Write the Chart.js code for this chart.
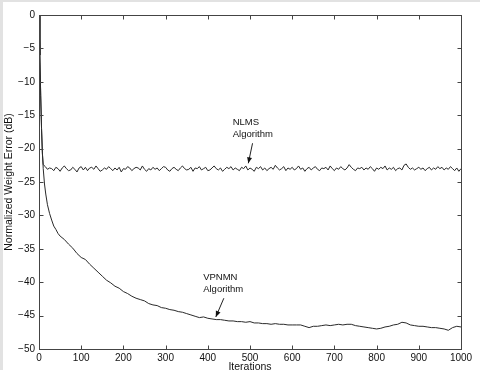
<!DOCTYPE html>
<html>
<head>
<meta charset="utf-8">
<script src="https://cdn.jsdelivr.net/npm/chart.js@4/dist/chart.umd.min.js"></script>
<style>
  html, body { margin: 0; padding: 0; background: #fff; }
  #wrap { width: 480px; height: 370px; position: relative; }
</style>
</head>
<body>
<div id="wrap"><canvas id="c" width="480" height="370"></canvas></div>
<script>
// ---- Data ----
const xTicks = [0, 100, 200, 300, 400, 500, 600, 700, 800, 900, 1000];
const yTicks = [0, -5, -10, -15, -20, -25, -30, -35, -40, -45, -50];

// VPNMN algorithm curve
const vpnmnIter = [0, 2, 4, 6, 8, 10, 13, 16, 20, 25, 30, 35, 40, 45, 50, 60, 70, 80, 90, 100,
  110, 120, 130, 140, 150, 160, 170, 180, 190, 200, 210, 220, 230, 240, 250, 260, 270, 280, 290, 300,
  310, 320, 330, 340, 350, 360, 370, 380, 390, 400, 410, 420, 430, 440, 450, 460, 470, 480, 490, 500,
  510, 520, 530, 540, 550, 560, 570, 580, 590, 600, 610, 620, 630, 640, 650, 660, 670, 680, 690, 700,
  710, 720, 730, 740, 750, 760, 770, 780, 790, 800, 810, 820, 830, 840, 850, 860, 870, 880, 890, 900,
  910, 920, 930, 940, 950, 960, 970, 980, 990, 1000];
const vpnmnErr = [0, -6, -12, -17, -20.5, -23, -25.3, -26.8, -28.4, -29.7, -30.7, -31.6, -32.1, -32.7, -33.1, -33.6, -34.3, -34.9, -35.7, -36.3,
  -36.6, -37.3, -37.9, -38.5, -39.1, -39.7, -40.1, -40.6, -40.9, -41.4, -41.7, -42.1, -42.4, -42.6, -42.8, -43.2, -43.4, -43.5, -43.8, -43.9,
  -44.1, -44.2, -44.4, -44.5, -44.7, -44.9, -45.1, -45.3, -45.2, -45.4, -45.5, -45.6, -45.6, -45.7, -45.8, -45.8, -45.9, -45.9, -46.0, -45.9,
  -46.1, -46.1, -46.2, -46.2, -46.3, -46.2, -46.3, -46.3, -46.4, -46.4, -46.4, -46.4, -46.6, -46.8, -46.6, -46.6, -46.5, -46.4, -46.5, -46.4,
  -46.3, -46.4, -46.3, -46.3, -46.5, -46.6, -46.7, -46.8, -46.9, -47.0, -46.9, -46.7, -46.6, -46.4, -46.3, -46.0, -46.1, -46.4, -46.5, -46.6,
  -46.6, -46.7, -46.8, -46.8, -46.9, -47.0, -47.2, -46.8, -46.6, -46.7];

// NLMS algorithm curve: initial drop, then steady state every 5 iterations from 15 to 1000
const nlmsDropIter = [0, 2, 4, 6, 8, 10];
const nlmsDropErr = [0, -6, -12, -17, -20.8, -22.4];
const nlmsStart = 15, nlmsStep = 5;
const nlmsErr = [
  -22.7,-23.1,-22.9,-23.0,-23.3,-22.8,-23.0,-23.4,-22.9,-22.6,
  -23.0,-23.3,-23.2,-22.8,-23.1,-23.5,-22.9,-22.7,-23.2,-22.8,
  -23.3,-22.9,-22.8,-23.1,-22.6,-23.0,-23.4,-23.2,-22.9,-23.1,
  -22.7,-23.0,-23.3,-22.9,-23.2,-22.8,-23.5,-23.0,-23.1,-22.7,
  -22.9,-23.3,-23.0,-22.8,-22.9,-23.2,-22.6,-23.1,-23.4,-23.0,
  -23.2,-22.8,-23.1,-22.9,-23.3,-23.0,-22.7,-22.8,-23.2,-23.4,
  -23.0,-22.8,-23.1,-23.3,-22.9,-22.6,-23.0,-23.2,-23.1,-22.8,
  -23.4,-22.9,-23.0,-22.7,-23.2,-23.0,-22.8,-23.3,-23.2,-22.9,
  -22.6,-23.0,-23.2,-22.9,-23.4,-23.1,-22.8,-23.0,-22.7,-23.2,
  -22.9,-23.1,-23.3,-22.8,-23.0,-22.6,-23.2,-22.9,-23.1,-23.4,
  -22.8,-23.0,-22.7,-23.2,-22.9,-23.3,-23.0,-22.8,-23.1,-22.5,
  -22.9,-23.2,-23.0,-22.7,-23.3,-22.9,-23.1,-22.8,-23.2,-23.0,
  -22.6,-23.1,-22.9,-23.4,-23.0,-22.8,-23.2,-22.9,-22.7,-23.1,
  -23.3,-22.9,-23.0,-22.8,-23.2,-22.6,-23.0,-23.3,-22.9,-23.1,
  -22.7,-23.0,-23.2,-22.9,-22.4,-22.8,-23.1,-23.3,-22.9,-23.0,
  -22.8,-23.2,-22.9,-23.1,-22.7,-23.0,-23.4,-22.9,-23.1,-22.8,
  -23.0,-22.6,-23.2,-22.9,-23.1,-22.8,-23.3,-23.0,-22.9,-23.2,
  -22.5,-22.3,-22.8,-23.1,-22.9,-23.2,-23.0,-22.8,-23.1,-22.9,
  -23.3,-23.0,-22.8,-23.2,-22.9,-23.1,-22.7,-23.0,-22.8,-23.2,
  -22.9,-23.1,-22.7,-23.0,-23.3,-22.9,-23.4,-23.0
];

// ---- Build library data ----
const vpnmnData = vpnmnIter.map((x, i) => ({ x: x, y: vpnmnErr[i] }));
const nlmsData = nlmsDropIter.map((x, i) => ({ x: x, y: nlmsDropErr[i] }))
  .concat(nlmsErr.map((y, i) => ({ x: nlmsStart + i * nlmsStep, y: y })));

const FONT = "'Liberation Sans', Arial, Helvetica, sans-serif";
const AXIS_COLOR = '#444';
const LINE_COLOR = '#2a2a2a';

const annotations = [
  { lines: ['NLMS', 'Algorithm'], tx: 459, ty: -15.4, ax0: 506, ay0: -19.2, ax1: 496, ay1: -22.2 },
  { lines: ['VPNMN', 'Algorithm'], tx: 389, ty: -38.6, ax0: 438, ay0: -42.4, ax1: 419, ay1: -45.2 }
];

const framePlugin = {
  id: 'frame',
  beforeDraw(chart) {
    const ctx = chart.ctx;
    ctx.save();
    ctx.fillStyle = '#ffffff';
    ctx.fillRect(0, 0, chart.width, chart.height);
    ctx.fillStyle = '#e2e2e2';
    ctx.fillRect(0, 0, 3, chart.height);
    ctx.fillRect(0, 0, chart.width, 2);
    ctx.restore();
  },
  afterDraw(chart) {
    const ctx = chart.ctx;
    const a = chart.chartArea;
    const xs = chart.scales.x, ys = chart.scales.y;
    ctx.save();
    ctx.strokeStyle = AXIS_COLOR;
    ctx.lineWidth = 1;
    const L = Math.round(a.left) + 0.5, R = Math.round(a.right) + 0.5;
    const T = Math.round(a.top) + 0.5, B = Math.round(a.bottom) + 0.5;
    ctx.strokeRect(L, T, R - L, B - T);
    const tl = 4;
    ctx.beginPath();
    xTicks.forEach(v => {
      const px = Math.round(xs.getPixelForValue(v)) + 0.5;
      ctx.moveTo(px, B); ctx.lineTo(px, B - tl);
      ctx.moveTo(px, T); ctx.lineTo(px, T + tl);
    });
    yTicks.forEach(v => {
      const py = Math.round(ys.getPixelForValue(v)) + 0.5;
      ctx.moveTo(L, py); ctx.lineTo(L + tl, py);
      ctx.moveTo(R, py); ctx.lineTo(R - tl, py);
    });
    ctx.stroke();

    // annotations
    ctx.fillStyle = '#111';
    ctx.strokeStyle = '#222';
    ctx.font = '9.5px ' + FONT;
    ctx.textBaseline = 'top';
    ctx.textAlign = 'left';
    annotations.forEach(an => {
      const tx = xs.getPixelForValue(an.tx), ty = ys.getPixelForValue(an.ty);
      an.lines.forEach((s, i) => ctx.fillText(s, tx, ty + i * 12));
      const x0 = xs.getPixelForValue(an.ax0), y0 = ys.getPixelForValue(an.ay0);
      const x1 = xs.getPixelForValue(an.ax1), y1 = ys.getPixelForValue(an.ay1);
      ctx.beginPath(); ctx.moveTo(x0, y0); ctx.lineTo(x1, y1); ctx.stroke();
      const ang = Math.atan2(y1 - y0, x1 - x0);
      const hl = 6, hw = 2.5;
      ctx.beginPath();
      ctx.moveTo(x1, y1);
      ctx.lineTo(x1 - hl * Math.cos(ang) + hw * Math.sin(ang), y1 - hl * Math.sin(ang) - hw * Math.cos(ang));
      ctx.lineTo(x1 - hl * Math.cos(ang) - hw * Math.sin(ang), y1 - hl * Math.sin(ang) + hw * Math.cos(ang));
      ctx.closePath();
      ctx.fill();
    });
    ctx.restore();
  }
};

new Chart(document.getElementById('c'), {
  type: 'line',
  data: {
    datasets: [
      { label: 'NLMS', data: nlmsData, borderColor: LINE_COLOR, borderWidth: 1, pointRadius: 0, tension: 0, fill: false },
      { label: 'VPNMN', data: vpnmnData, borderColor: LINE_COLOR, borderWidth: 1, pointRadius: 0, tension: 0, fill: false }
    ]
  },
  options: {
    responsive: false,
    animation: false,
    events: [],
    layout: { padding: { left: 0, right: 19, top: 15, bottom: 0 } },
    plugins: { legend: { display: false }, tooltip: { enabled: false } },
    scales: {
      x: {
        type: 'linear', min: 0, max: 1000,
        afterBuildTicks(s) { s.ticks = xTicks.map(v => ({ value: v })); },
        afterFit(s) { s.height = 21; },
        grid: { display: false, drawTicks: false },
        border: { display: true, color: AXIS_COLOR },
        ticks: { color: '#111', font: { family: FONT, size: 10 }, padding: 3, maxRotation: 0, autoSkip: false,
          callback: v => String(v) },
        title: { display: true, text: 'Iterations', color: '#111', font: { family: FONT, size: 10.5 }, padding: { top: 0, bottom: -3 } }
      },
      y: {
        type: 'linear', min: -50, max: 0,
        afterBuildTicks(s) { s.ticks = yTicks.map(v => ({ value: v })); },
        afterFit(s) { s.width = 39; },
        grid: { display: false, drawTicks: false },
        border: { display: true, color: AXIS_COLOR },
        ticks: { color: '#111', font: { family: FONT, size: 10 }, padding: 4, autoSkip: false,
          callback: v => String(v).replace('-', '\u2212') },
        title: { display: true, text: 'Normalized Weight Error (dB)', color: '#111', font: { family: FONT, size: 10.5 }, padding: { top: 3, bottom: 0 } }
      }
    }
  },
  plugins: [framePlugin]
});
</script>
</body>
</html>
